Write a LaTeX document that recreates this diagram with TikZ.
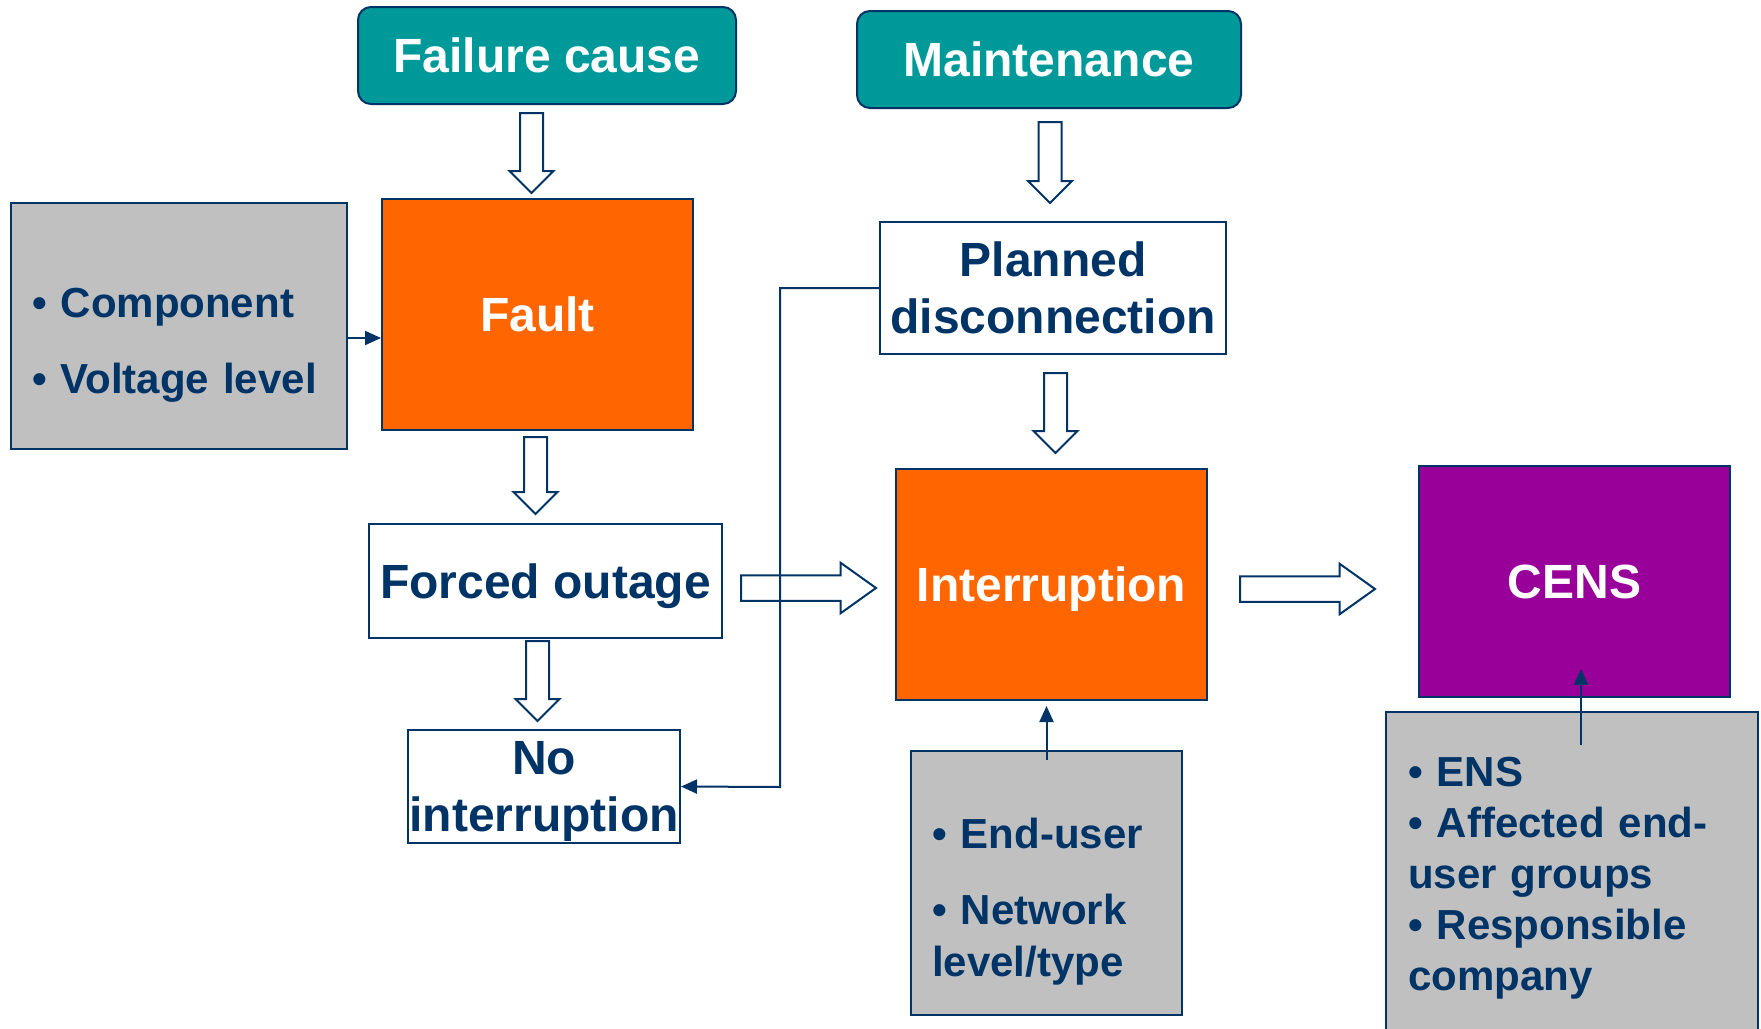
\documentclass[tikz,border=0pt]{standalone}
\usepackage{fontspec}
\setmainfont{Liberation Sans}
\usetikzlibrary{shapes.arrows, arrows.meta}

\definecolor{navyblue}{HTML}{003366}
\definecolor{boxteal}{HTML}{009999}
\definecolor{boxorange}{HTML}{FF6600}
\definecolor{boxpurple}{HTML}{990099}
\definecolor{boxgray}{HTML}{C0C0C0}

\begin{document}
\begin{tikzpicture}[x=1pt, y=-1pt, line width=2pt,
  font=\bfseries\fontsize{48}{57}\selectfont, text=navyblue,
  headbox/.style={draw=navyblue, fill=boxteal, text=white, rounded corners=13pt,
    minimum height=97pt, inner sep=0pt},
  mainbox/.style={draw=navyblue, fill=boxorange, text=white, text depth=0pt,
    minimum width=311pt, minimum height=231pt, inner sep=0pt},
  plainbox/.style={draw=navyblue, fill=white, align=center, text depth=0pt, inner sep=0pt},
  infobox/.style={draw=navyblue, fill=boxgray},
  infotext/.style={align=left, inner sep=0pt, font=\bfseries\fontsize{42}{52}\selectfont},
  blockarrow/.style={single arrow, draw=navyblue, fill=white, anchor=tail, inner xsep=0pt,
    inner ysep=10.5pt, single arrow head extend=10.5pt, single arrow tip angle=90},
  widearrow/.style={blockarrow, inner ysep=11.75pt,
    single arrow head extend=12.5pt, single arrow tip angle=71},
  thinarrow/.style={draw=navyblue, -{Triangle[length=16pt, width=14pt]}}]

\fill[white] (0,0) rectangle (1761,1028);
\useasboundingbox (0,0) rectangle (1761,1028);

% top row
\node (cause) [headbox, minimum width=378pt] at (547,55.5) {Failure cause};
\node (maint) [headbox, minimum width=384pt] at (1049,59.5) {Maintenance};

% failure branch
\node (fault) [mainbox] at (537.5,314) {Fault};
\node (comp) [infobox, minimum width=336pt, minimum height=246pt] at (179,326) {};
\node (comptext) [infotext, text width=294pt] at ([yshift=-19pt]comp.center)
  {• Component\\[24pt]• Voltage level};
\node (forced) [plainbox, minimum width=353pt, minimum height=114pt] at (545.5,581) {Forced outage};
\node (noint) [plainbox, minimum width=272pt, minimum height=113pt] at (544,786.5) {No\\interruption};

% planned branch
\node (planned) [plainbox, minimum width=346pt, minimum height=132pt] at (1053,288) {Planned\\disconnection};
\node (interr) [mainbox] at (1051.5,584.5) {Interruption};
\node (enduser) [infobox, minimum width=271pt, minimum height=264pt] at (1046.5,883) {};
\node (endusertext) [infotext, text width=229pt] at ([yshift=-19pt]enduser.center)
  {• End-user\\[24pt]• Network\\level/type};

% result
\node (cens) [mainbox, fill=boxpurple] at (1574.5,581.5) {CENS};
\node (censinfo) [infobox, minimum width=372pt, minimum height=340pt] at (1572,882) {};
\node (censtext) [infotext, text width=328pt, font=\bfseries\fontsize{42}{51}\selectfont]
  at ([yshift=4pt]censinfo.center)
  {• ENS\\• Affected end-\\user groups\\• Responsible\\company};

% block arrows, placed by their tails
\node (a1) [blockarrow, rotate=-90, minimum height=80pt] at (531.5,112) {};
\node (a2) [blockarrow, rotate=-90, minimum height=77pt] at (535.5,436) {};
\node (a3) [blockarrow, rotate=-90, minimum height=80pt] at (537.5,640) {};
\node (a4) [blockarrow, rotate=-90, minimum height=81pt] at (1050,121) {};
\node (a5) [blockarrow, rotate=-90, minimum height=80pt] at (1055.5,372) {};
\node (a6) [widearrow, minimum height=135pt] at (740,588) {};
\node (a7) [widearrow, minimum height=135pt] at (1239,589) {};

% thin connectors
\coordinate (bend) at (780,787);
\draw[thinarrow] (comp.east |- 0,338) -- (fault.west |- 0,338);
\draw[thinarrow] (planned.west) -| (bend) -- (noint.east);
\draw[thinarrow] ([yshift=-10pt]enduser.north) -- ([yshift=-5pt]enduser.north |- interr.south);
\draw[thinarrow] ([xshift=9pt,yshift=-34pt]censinfo.north) -- ([xshift=9pt]censinfo.north |- 0,669);
\end{tikzpicture}
\end{document}
